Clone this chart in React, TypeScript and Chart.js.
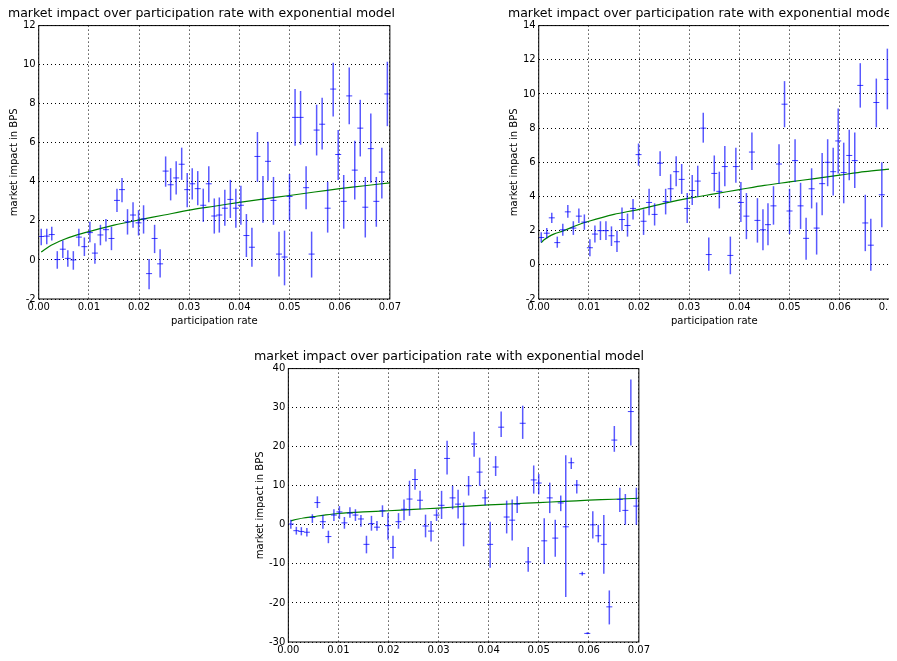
import { Chart, registerables } from 'chart.js';
import { useEffect, useRef } from 'react';

Chart.register(...registerables);

const xs = [0.0005, 0.0016, 0.0026, 0.0037, 0.0048, 0.0058, 0.0069, 0.0080, 0.0091, 0.0102, 0.0112, 0.0123, 0.0134, 0.0145, 0.0156, 0.0166, 0.0177, 0.0188, 0.0199, 0.0209, 0.0220, 0.0231, 0.0242, 0.0253, 0.0263, 0.0274, 0.0285, 0.0296, 0.0306, 0.0317, 0.0328, 0.0339, 0.0350, 0.0360, 0.0371, 0.0382, 0.0393, 0.0403, 0.0414, 0.0425, 0.0436, 0.0447, 0.0457, 0.0468, 0.0479, 0.0490, 0.0500, 0.0511, 0.0522, 0.0533, 0.0544, 0.0554, 0.0565, 0.0576, 0.0587, 0.0597, 0.0608, 0.0619, 0.0630, 0.0641, 0.0651, 0.0662, 0.0673, 0.0684, 0.0695];

const fitX = [0.0005, 0.001, 0.002, 0.003, 0.005, 0.0075, 0.01, 0.015, 0.02, 0.025, 0.03, 0.035, 0.04, 0.045, 0.05, 0.055, 0.06, 0.065, 0.07];

// panel 1 (top left)
const mid1 = [1.2, 1.22, 1.3, 0.02, 0.55, 0.08, 0.0, 1.17, 0.68, 1.4, 0.35, 1.28, 1.55, 1.1, 3.05, 3.6, 1.95, 2.3, 1.9, 2.1, -0.7, 1.1, -0.2, 4.55, 3.85, 4.2, 4.9, 3.6, 3.9, 3.65, 2.8, 3.9, 2.25, 2.3, 2.65, 3.1, 2.65, 2.8, 1.25, 0.65, 5.3, 3.1, 5.05, 3.05, 0.3, 0.15, 3.25, 7.3, 7.3, 3.7, 0.3, 6.65, 6.95, 2.65, 8.75, 5.4, 3.0, 8.4, 4.6, 6.75, 2.7, 5.7, 3.0, 4.5, 8.5];
const lo1 = [0.75, 0.8, 1.0, -0.45, 0.1, -0.35, -0.5, 0.7, 0.2, 0.9, -0.2, 0.75, 0.95, 0.5, 2.45, 2.95, 1.3, 1.65, 1.25, 1.35, -1.5, 0.35, -0.9, 3.75, 3.05, 3.35, 4.1, 2.7, 3.1, 2.8, 1.95, 2.95, 1.35, 1.4, 1.75, 2.15, 1.65, 1.8, 0.15, -0.35, 4.0, 1.9, 4.05, 1.8, -0.85, -1.3, 2.0, 5.85, 5.9, 2.6, -0.9, 5.35, 5.65, 1.4, 7.35, 4.1, 1.6, 6.95, 3.1, 5.3, 1.15, 3.95, 1.7, 3.15, 6.85];
const hi1 = [1.6, 1.6, 1.7, 0.45, 1.0, 0.5, 0.45, 1.6, 1.15, 1.95, 0.85, 1.8, 2.1, 1.7, 3.65, 4.2, 2.6, 2.95, 2.55, 2.8, 0.05, 1.8, 0.55, 5.3, 4.7, 5.05, 5.75, 4.45, 4.7, 4.55, 3.65, 4.8, 3.15, 3.2, 3.6, 4.1, 3.65, 3.8, 2.35, 1.65, 6.55, 4.3, 6.05, 4.25, 1.45, 1.5, 4.4, 8.75, 8.65, 4.8, 1.45, 7.95, 8.3, 4.0, 10.1, 6.65, 4.35, 9.85, 6.1, 8.2, 4.25, 7.5, 4.25, 5.75, 10.15];
const fit1 = [0.4, 0.5, 0.68, 0.82, 1.05, 1.27, 1.45, 1.78, 2.05, 2.3, 2.55, 2.75, 2.95, 3.13, 3.3, 3.48, 3.65, 3.8, 3.95];

// panel 2 (top right)
const mid2 = [1.6, 1.85, 2.75, 1.3, 2.05, 3.1, 2.15, 2.85, 2.5, 1.0, 1.8, 2.0, 2.0, 1.7, 1.35, 2.65, 2.3, 3.3, 6.45, 2.55, 3.65, 2.95, 5.95, 3.7, 4.45, 5.45, 5.0, 3.3, 4.35, 4.9, 8.0, 0.6, 5.35, 4.3, 5.75, 0.55, 5.75, 3.65, 2.85, 6.6, 2.6, 2.05, 2.35, 3.45, 5.9, 9.4, 3.15, 6.1, 3.45, 1.55, 4.45, 2.15, 4.75, 6.0, 5.45, 7.25, 5.4, 6.4, 6.1, 10.5, 2.45, 1.15, 9.5, 4.1, 10.85];
const lo2 = [1.3, 1.55, 2.45, 1.0, 1.7, 2.75, 1.75, 2.45, 2.05, 0.5, 1.3, 1.45, 1.45, 1.1, 0.75, 2.0, 1.65, 2.65, 5.8, 1.75, 2.9, 2.3, 5.2, 2.95, 3.7, 4.6, 4.15, 2.45, 3.5, 4.0, 7.15, -0.35, 4.3, 3.3, 4.6, -0.55, 4.8, 2.5, 1.5, 5.55, 1.3, 0.85, 1.15, 2.35, 4.75, 8.05, 1.8, 4.85, 2.1, 0.3, 3.3, 0.6, 2.9, 4.6, 4.05, 5.35, 3.6, 4.95, 4.5, 9.2, 0.8, -0.35, 8.05, 2.2, 9.1];
const hi2 = [1.9, 2.15, 3.05, 1.65, 2.4, 3.5, 2.55, 3.3, 2.95, 1.5, 2.3, 2.55, 2.55, 2.25, 2.0, 3.35, 3.0, 3.85, 7.1, 3.25, 4.45, 3.6, 6.65, 4.45, 5.3, 6.35, 5.9, 4.2, 5.25, 5.8, 8.9, 1.6, 6.4, 5.45, 6.95, 1.65, 6.85, 4.85, 4.2, 7.75, 3.9, 3.25, 3.6, 4.6, 7.05, 10.75, 4.45, 7.35, 4.8, 2.75, 5.65, 3.65, 6.55, 7.35, 6.85, 9.15, 7.15, 7.9, 7.75, 11.8, 4.1, 2.7, 10.9, 6.0, 12.65];
const fit2 = [1.3, 1.45, 1.65, 1.8, 2.0, 2.3, 2.55, 2.95, 3.25, 3.6, 3.9, 4.15, 4.4, 4.65, 4.85, 5.05, 5.25, 5.45, 5.6];

// panel 3 (bottom)
const mid3 = [0.2, -1.5, -1.7, -1.9, 1.9, 5.7, 0.8, -3.0, 2.5, 3.3, 0.5, 3.0, 2.5, 1.5, -5.0, 0.3, -0.6, 3.6, -0.2, -5.8, 0.8, 4.0, 6.6, 11.6, 6.3, -0.3, -1.6, 2.5, 5.0, 17.0, 6.9, 5.3, 0.2, 10.0, 20.7, 13.5, 6.9, -5.0, 14.8, 25.0, 2.0, 1.2, 5.3, 26.0, -9.5, 11.5, 10.7, -4.1, 6.9, -3.4, 5.6, -0.5, 15.9, 10.2, -12.5, -27.8, 0.0, -2.8, -5.0, -21.0, 21.7, 6.5, 3.7, 29.0, 4.8];
const lo3 = [-1, -2.5, -2.7, -3, 0.5, 4.3, -1, -4.7, 1, 1.5, -1, 1.8, 1, -0.5, -7.3, -1.5, -1.5, 2, -3.8, -8.7, -1, 1.2, 2.3, 9, 4, -3.2, -4.3, 1, 1.5, 12.9, 4, 1.6, -5.5, 7.5, 17.4, 10, 5, -11, 12.5, 22.5, -2.2, -4, 3, 22, -12, 8, 7.8, -10, 3, -8.2, 3.5, -18.5, 14.3, 8, -13, -28, -3.5, -4.5, -12.5, -25.5, 18.7, 3.3, 0, 20.3, 0];
const hi3 = [1.3, -0.5, -0.6, -0.8, 2.7, 7.3, 2.5, -1.5, 4, 4.8, 2, 4.5, 4, 2.5, -2.8, 2.3, 1, 5, 3, -2.8, 3, 6.5, 11.3, 14.3, 8.7, 2.6, 1, 4, 8.7, 21.5, 10, 9, 5.7, 12.5, 23.8, 17.2, 9, 0.8, 17.6, 29, 6.2, 6.5, 7.3, 30.5, -5.7, 15.2, 13, 1.7, 10.8, 1.3, 7.5, 17.8, 17.2, 11.5, -12, -27.5, 3.5, 0, 2.5, -16.8, 25.3, 9.5, 7.9, 37.2, 9.5];
const fit3 = [1.0, 1.2, 1.5, 1.75, 2.1, 2.55, 2.9, 3.3, 3.6, 3.95, 4.3, 4.7, 5.1, 5.4, 5.7, 6.0, 6.3, 6.55, 6.8];

const FONT = 'DejaVu Sans';

const errorBars = {
    id: 'errorBars',
    afterDatasetsDraw(chart: any, _args: any, opts: any) {
        if (!opts || !opts.lo) return;
        const { ctx, scales } = chart;
        ctx.save();
        ctx.strokeStyle = 'rgba(0,0,255,0.65)';
        ctx.lineWidth = 1.5;
        xs.forEach((x, i) => {
            const px = scales.x.getPixelForValue(x);
            ctx.beginPath();
            ctx.moveTo(px, scales.y.getPixelForValue(opts.lo[i]));
            ctx.lineTo(px, scales.y.getPixelForValue(opts.hi[i]));
            ctx.stroke();
        });
        ctx.restore();
    },
};

const frame = {
    id: 'frame',
    afterDraw(chart: any) {
        const { ctx, chartArea: a } = chart;
        ctx.save();
        ctx.strokeStyle = '#000';
        ctx.lineWidth = 1;
        ctx.strokeRect(a.left, a.top, a.right - a.left, a.bottom - a.top);
        ctx.restore();
    },
};

type PanelProps = {
    mid: number[]; lo: number[]; hi: number[]; fit: number[];
    yMin: number; yMax: number; yStep: number;
    style: React.CSSProperties; width: number; height: number;
};

const Panel = ({ mid, lo, hi, fit, yMin, yMax, yStep, style, width, height }: PanelProps) => {
    const ref = useRef<HTMLCanvasElement | null>(null);
    useEffect(() => {
        if (!ref.current) return;
        const chart = new Chart(ref.current, {
            type: 'scatter',
            data: {
                datasets: [
                    {
                        data: xs.map((x, i) => ({ x, y: mid[i] })),
                        pointStyle: 'line',
                        radius: 3,
                        borderColor: 'rgba(0,0,255,0.75)',
                        borderWidth: 1,
                    } as any,
                    {
                        type: 'line',
                        data: fitX.map((x, i) => ({ x, y: fit[i] })),
                        borderColor: '#008000',
                        borderWidth: 1.2,
                        pointRadius: 0,
                        tension: 0.3,
                    } as any,
                ],
            },
            options: {
                responsive: false,
                animation: false,
                layout: { padding: { right: 8 } },
                plugins: {
                    legend: { display: false },
                    tooltip: { enabled: false },
                    title: {
                        display: true,
                        text: 'market impact over participation rate with exponential model',
                        color: '#000',
                        font: { family: FONT, size: 13, weight: 'normal' },
                        padding: { top: 2, bottom: 4 },
                    },
                    errorBars: { lo, hi },
                } as any,
                scales: {
                    x: {
                        type: 'linear', min: 0, max: 0.07,
                        ticks: { stepSize: 0.01, color: '#000', font: { family: FONT, size: 10 }, callback: (v: any) => Number(v).toFixed(2), maxRotation: 0, padding: 2 },
                        grid: { color: '#000', drawTicks: false },
                        border: { dash: [1, 3], display: false },
                        title: { display: true, text: 'participation rate', color: '#000', font: { family: FONT, size: 10 }, padding: 0 },
                    },
                    y: {
                        min: yMin, max: yMax,
                        ticks: { stepSize: yStep, color: '#000', font: { family: FONT, size: 10 }, padding: 3 },
                        grid: { color: '#000', drawTicks: false },
                        border: { dash: [1, 3], display: false },
                        title: { display: true, text: 'market impact in BPS', color: '#000', font: { family: FONT, size: 10 }, padding: 0 },
                    },
                },
            },
            plugins: [errorBars, frame],
        });
        return () => chart.destroy();
    }, []);
    return <canvas ref={ref} width={width} height={height} style={{ position: 'absolute', ...style }} />;
};

export default function App() {
    return (
        <div style={{ position: 'relative', width: 897, height: 661, margin: -8, overflow: 'hidden', background: '#fff' }}>
            <Panel mid={mid1} lo={lo1} hi={hi1} fit={fit1} yMin={-2} yMax={12} yStep={2} width={395} height={323} style={{ left: 8, top: 4 }} />
            <Panel mid={mid2} lo={lo2} hi={hi2} fit={fit2} yMin={-2} yMax={14} yStep={2} width={395} height={323} style={{ left: 508, top: 4 }} />
            <Panel mid={mid3} lo={lo3} hi={hi3} fit={fit3} yMin={-30} yMax={40} yStep={10} width={398} height={323} style={{ left: 254, top: 347 }} />
        </div>
    );
}
